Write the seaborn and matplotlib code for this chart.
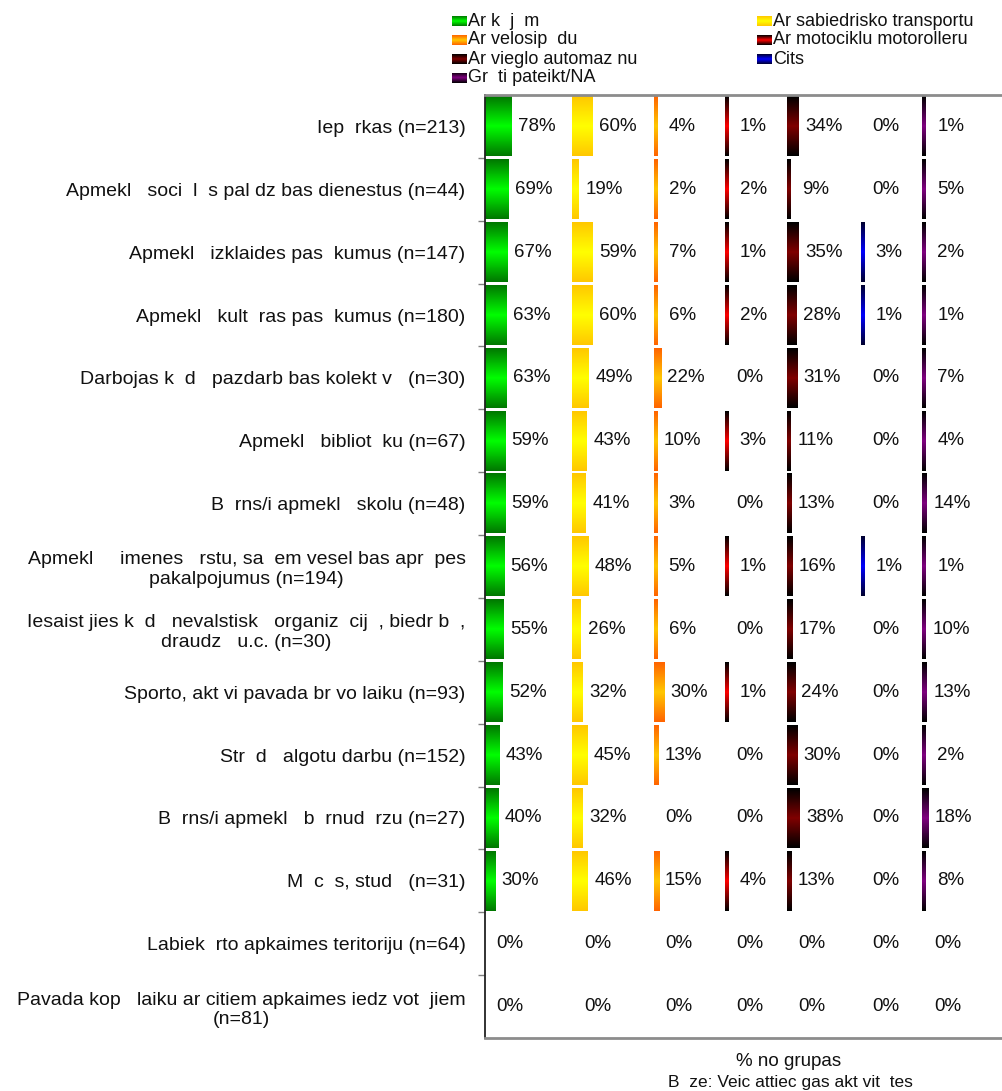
import numpy as np
import pandas as pd
import seaborn as sns
import matplotlib.pyplot as plt
from matplotlib.colors import LinearSegmentedColormap

# --- data ---
categories = [
    "Iep  rkas (n=213)",
    "Apmekl   soci  l  s pal dz bas dienestus (n=44)",
    "Apmekl   izklaides pas  kumus (n=147)",
    "Apmekl   kult  ras pas  kumus (n=180)",
    "Darbojas k  d   pazdarb bas kolekt v   (n=30)",
    "Apmekl   bibliot  ku (n=67)",
    "B  rns/i apmekl   skolu (n=48)",
    "Apmekl     imenes   rstu, sa  em vesel bas apr  pes\npakalpojumus (n=194)",
    "Iesaist jies k  d   nevalstisk   organiz  cij  , biedr b  ,\ndraudz   u.c. (n=30)",
    "Sporto, akt vi pavada br vo laiku (n=93)",
    "Str  d   algotu darbu (n=152)",
    "B  rns/i apmekl   b  rnud  rzu (n=27)",
    "M  c  s, stud   (n=31)",
    "Labiek  rto apkaimes teritoriju (n=64)",
    "Pavada kop   laiku ar citiem apkaimes iedz vot  jiem\n(n=81)",
]
series_names = [
    "Ar k  j  m",
    "Ar sabiedrisko transportu",
    "Ar velosip  du",
    "Ar motociklu motorolleru",
    "Ar vieglo automaz nu",
    "Cits",
    "Gr  ti pateikt/NA",
]
walk = [78, 69, 67, 63, 63, 59, 59, 56, 55, 52, 43, 40, 30, 0, 0]
transport = [60, 19, 59, 60, 49, 43, 41, 48, 26, 32, 45, 32, 46, 0, 0]
bike = [4, 2, 7, 6, 22, 10, 3, 5, 6, 30, 13, 0, 15, 0, 0]
moto = [1, 2, 1, 2, 0, 3, 0, 1, 0, 1, 0, 0, 4, 0, 0]
car = [34, 9, 35, 28, 31, 11, 13, 16, 17, 24, 30, 38, 13, 0, 0]
other = [0, 0, 3, 1, 0, 0, 0, 1, 0, 0, 0, 0, 0, 0, 0]
na = [1, 5, 2, 1, 7, 4, 14, 1, 10, 13, 2, 18, 8, 0, 0]
series_values = [walk, transport, bike, moto, car, other, na]

# gradient colours (edge, centre) per series
grad_colors = [
    ("#007800", "#00ff00"),
    ("#ffc800", "#ffff00"),
    ("#ff6400", "#ffc800"),
    ("#000000", "#ff0000"),
    ("#000000", "#800000"),
    ("#000030", "#0000ff"),
    ("#000000", "#800080"),
]

W, H = 1003, 1091
GAP = 179          # empty space between panels, in % units
MIN_W = 10         # thin bars still show up
X_MAX = 1524

sns.set_theme(style="white")
plt.rcParams["font.family"] = ["Liberation Sans", "DejaVu Sans"]


def gradient_img(edge, center, n=64):
    cmap = LinearSegmentedColormap.from_list("g", [edge, center, edge])
    return cmap(np.linspace(0, 1, n))[:, None, :]


fig = plt.figure(figsize=(W / 100, H / 100), dpi=100)
ax = fig.add_axes([485 / W, 1 - 1038 / H, 1 - 485 / W, (1038 - 95) / H])

offset = 0
for vals, (edge, center) in zip(series_values, grad_colors):
    df = pd.DataFrame({"category": categories, "value": vals})
    n0 = len(ax.patches)
    sns.barplot(data=df, x="value", y="category", orient="h", width=0.95,
                color="white", ax=ax, linewidth=0)
    img = gradient_img(edge, center)
    for patch, v, i in zip(ax.patches[n0:], vals, range(len(vals))):
        w = max(v, MIN_W) if v > 0 else 0
        patch.set_x(offset)
        patch.set_width(w)
        patch.set_facecolor("none")
        if v > 0:
            y0 = patch.get_y()
            h = patch.get_height()
            ax.imshow(img, extent=(offset, offset + w, y0 + h, y0),
                      aspect="auto", interpolation="bilinear", zorder=2)
        ax.text(offset + (w if v > 0 else 0) + 74, i, f"{v}%",
                ha="center", va="center", fontsize=13.5, color="#111111",
                zorder=3)
    offset += max(vals) + GAP

ax.set_xlim(0, X_MAX)
ax.set_ylim(len(categories) - 0.5, -0.5)
ax.set_xlabel("")
ax.set_ylabel("")
ax.set_xticks([])
ax.set_yticks(range(len(categories)))
ax.set_yticklabels(categories, fontsize=14, ha="right", multialignment="center")
ax.set_yticks(np.arange(0.5, len(categories) - 1, 1), minor=True)
ax.tick_params(axis="y", which="major", length=0, pad=14, labelcolor="#111111")
ax.tick_params(axis="y", which="minor", length=5, width=1, color="#808080",
               direction="out", left=True)
for side in ["top", "bottom"]:
    ax.spines[side].set_color("#8c8c8c")
    ax.spines[side].set_linewidth(2)
ax.spines["left"].set_color("#222222")
ax.spines["left"].set_linewidth(1.3)
ax.spines["right"].set_visible(False)

# legend, two columns
legend_pos = [(452, 21), (757, 21), (452, 40), (757, 40),
              (452, 59), (757, 59), (452, 78)]
for k, (lx, ly) in enumerate(legend_pos):
    lax = fig.add_axes([lx / W, 1 - (ly + 5) / H, 15 / W, 10 / H])
    lax.imshow(gradient_img(*grad_colors[k]), aspect="auto")
    lax.axis("off")
    fig.text((lx + 16) / W, 1 - ly / H, series_names[k], fontsize=13,
             ha="left", va="center", color="#111111")

fig.text(789 / W, 1 - 1061 / H, "% no grupas", fontsize=13.5,
         ha="center", va="center", color="#111111")
fig.text(790 / W, 1 - 1083 / H, "B  ze: Veic attiec gas akt vit  tes",
         fontsize=12.5, ha="center", va="center", color="#111111")

fig.savefig("out.png", dpi=100)
